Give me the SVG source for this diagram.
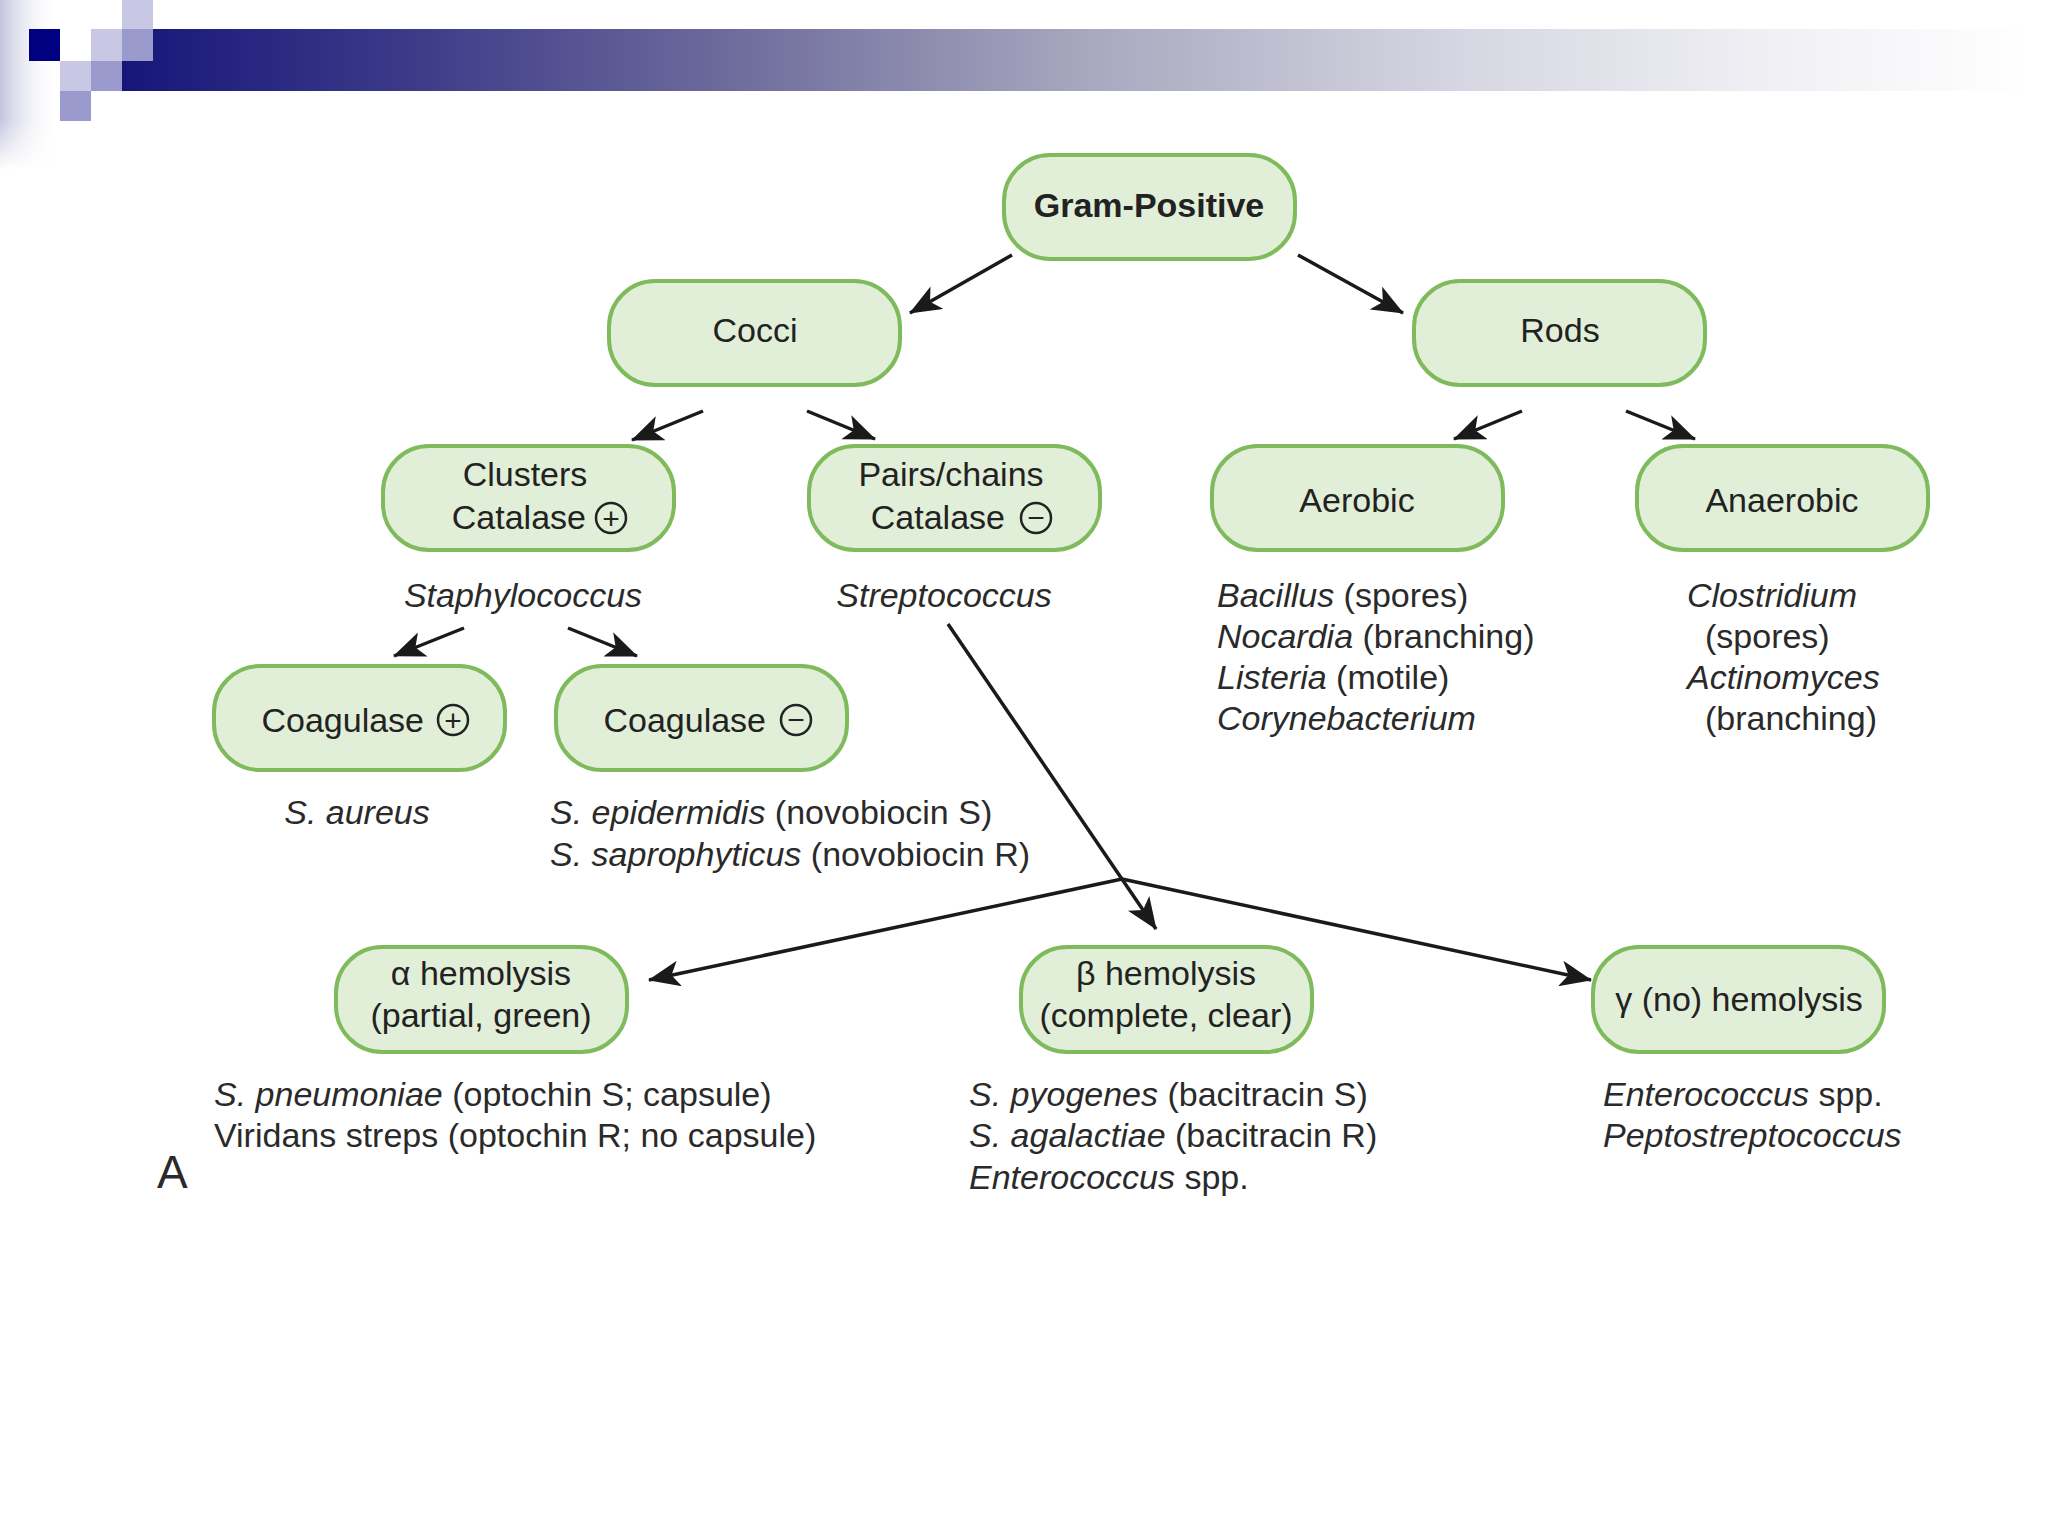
<svg xmlns="http://www.w3.org/2000/svg" width="2048" height="1536" viewBox="0 0 2048 1536">
<defs>
<linearGradient id="barGrad" gradientUnits="userSpaceOnUse" x1="122" y1="0" x2="2030" y2="0">
<stop offset="0" stop-color="#16167a"/>
<stop offset="0.15" stop-color="#3c3a88"/>
<stop offset="0.32" stop-color="#6e6c9c"/>
<stop offset="0.5" stop-color="#a6a6be"/>
<stop offset="0.7" stop-color="#d6d6e2"/>
<stop offset="0.88" stop-color="#f2f2f6"/>
<stop offset="1" stop-color="#ffffff"/>
</linearGradient>
<linearGradient id="edgeGrad" x1="0" y1="0" x2="1" y2="0">
<stop offset="0" stop-color="#c4c4de"/>
<stop offset="1" stop-color="#ffffff" stop-opacity="0"/>
</linearGradient>
<linearGradient id="edgeFadeV" x1="0" y1="0" x2="0" y2="1">
<stop offset="0" stop-color="#ffffff" stop-opacity="0"/>
<stop offset="0.7" stop-color="#ffffff" stop-opacity="0"/>
<stop offset="1" stop-color="#ffffff" stop-opacity="1"/>
</linearGradient>
<marker id="arr" markerUnits="userSpaceOnUse" markerWidth="32" markerHeight="26" viewBox="0 0 32 26" refX="31" refY="13" orient="auto">
<path d="M0,0 L32,13 L0,26 L8,13 z" fill="#1a1a1a"/>
</marker>
<style>
.node rect{fill:#e2efd8;stroke:#7fba5c;stroke-width:4}
.nt{font-family:"Liberation Sans",Arial,sans-serif;font-size:34px;fill:#222222;text-anchor:middle}
.lb{font-family:"Liberation Sans",Arial,sans-serif;font-size:34px;fill:#2a2a2a}
.it{font-style:italic}
.big{font-size:46px}
.sym circle{fill:none;stroke:#222222;stroke-width:2.5}
.sym text{font-family:"Liberation Sans",Arial,sans-serif;font-size:30px;fill:#222222;text-anchor:middle}
.conn line{stroke:#1a1a1a;stroke-width:3.5;fill:none}
</style>
</defs>
<rect width="2048" height="1536" fill="#ffffff"/>
<g id="header">
<rect x="0" y="0" width="60" height="170" fill="url(#edgeGrad)"/>
<rect x="0" y="0" width="60" height="170" fill="url(#edgeFadeV)"/>
<rect x="122" y="29" width="1910" height="62" fill="url(#barGrad)"/>
<rect x="29" y="29" width="31" height="32" fill="#000080"/>
<rect x="91" y="29" width="31" height="32" fill="#c8c8e4"/>
<rect x="122" y="0" width="31" height="29" fill="#c8c8e4"/>
<rect x="122" y="29" width="31" height="32" fill="#9a9acc"/>
<rect x="60" y="61" width="31" height="30" fill="#c8c8e4"/>
<rect x="91" y="61" width="31" height="30" fill="#9a9acc"/>
<rect x="60" y="91" width="31" height="30" fill="#9a9acc"/>
</g>
<g id="connectors" class="conn">
<line x1="1012" y1="255" x2="910" y2="313" marker-end="url(#arr)"/>
<line x1="1298" y1="255" x2="1403" y2="313" marker-end="url(#arr)"/>
<line x1="703" y1="411" x2="632" y2="440" marker-end="url(#arr)"/>
<line x1="807" y1="411" x2="875" y2="439" marker-end="url(#arr)"/>
<line x1="1522" y1="411" x2="1454" y2="439" marker-end="url(#arr)"/>
<line x1="1626" y1="411" x2="1695" y2="439" marker-end="url(#arr)"/>
<line x1="464" y1="628" x2="394" y2="656" marker-end="url(#arr)"/>
<line x1="568" y1="628" x2="637" y2="656" marker-end="url(#arr)"/>
<line x1="948" y1="624" x2="1156" y2="929" marker-end="url(#arr)"/>
<line x1="1122" y1="879" x2="649" y2="980" marker-end="url(#arr)"/>
<line x1="1122" y1="879" x2="1591" y2="980" marker-end="url(#arr)"/>
</g>
<g id="gram-positive" class="node">
<rect x="1004" y="155" width="291" height="104" rx="46"/>
<text x="1149" y="217" class="nt" font-weight="bold">Gram-Positive</text>
</g>
<g id="cocci" class="node">
<rect x="609" y="281" width="291" height="104" rx="46"/>
<text x="755" y="342" class="nt">Cocci</text>
</g>
<g id="rods" class="node">
<rect x="1414" y="281" width="291" height="104" rx="46"/>
<text x="1560" y="342" class="nt">Rods</text>
</g>
<g id="clusters" class="node">
<rect x="383" y="446" width="291" height="104" rx="46"/>
<text x="525" y="486" class="nt">Clusters</text>
<text x="586" y="529" class="nt" style="text-anchor:end">Catalase</text>
<g class="sym"><circle cx="611" cy="518" r="15"/><text x="611" y="529">+</text></g>
</g>
<g id="pairs-chains" class="node">
<rect x="809" y="446" width="291" height="104" rx="46"/>
<text x="951" y="486" class="nt">Pairs/chains</text>
<text x="1005" y="529" class="nt" style="text-anchor:end">Catalase</text>
<g class="sym"><circle cx="1036" cy="518" r="15"/><text x="1036" y="528">−</text></g>
</g>
<g id="aerobic" class="node">
<rect x="1212" y="446" width="291" height="104" rx="46"/>
<text x="1357" y="512" class="nt">Aerobic</text>
</g>
<g id="anaerobic" class="node">
<rect x="1637" y="446" width="291" height="104" rx="46"/>
<text x="1782" y="512" class="nt">Anaerobic</text>
</g>
<g id="coagulase-pos" class="node">
<rect x="214" y="666" width="291" height="104" rx="46"/>
<text x="424" y="732" class="nt" style="text-anchor:end">Coagulase</text>
<g class="sym"><circle cx="453" cy="720" r="15"/><text x="453" y="731">+</text></g>
</g>
<g id="coagulase-neg" class="node">
<rect x="556" y="666" width="291" height="104" rx="46"/>
<text x="766" y="732" class="nt" style="text-anchor:end">Coagulase</text>
<g class="sym"><circle cx="796" cy="720" r="15"/><text x="796" y="730">−</text></g>
</g>
<g id="alpha" class="node">
<rect x="336" y="947" width="291" height="105" rx="46"/>
<text x="481" y="985" class="nt">α hemolysis</text>
<text x="481" y="1027" class="nt">(partial, green)</text>
</g>
<g id="beta" class="node">
<rect x="1021" y="947" width="291" height="105" rx="46"/>
<text x="1166" y="985" class="nt">β hemolysis</text>
<text x="1166" y="1027" class="nt">(complete, clear)</text>
</g>
<g id="gamma" class="node">
<rect x="1593" y="947" width="291" height="105" rx="46"/>
<text x="1739" y="1011" class="nt">γ (no) hemolysis</text>
</g>
<g id="labels">
<text x="523" y="607" class="lb it" text-anchor="middle">Staphylococcus</text>
<text x="944" y="607" class="lb it" text-anchor="middle">Streptococcus</text>
<text x="1217" y="607" class="lb"><tspan class="it">Bacillus</tspan> (spores)</text>
<text x="1217" y="648" class="lb"><tspan class="it">Nocardia</tspan> (branching)</text>
<text x="1217" y="689" class="lb"><tspan class="it">Listeria</tspan> (motile)</text>
<text x="1217" y="730" class="lb it">Corynebacterium</text>
<text x="1687" y="607" class="lb it">Clostridium</text>
<text x="1705" y="648" class="lb">(spores)</text>
<text x="1687" y="689" class="lb it">Actinomyces</text>
<text x="1705" y="730" class="lb">(branching)</text>
<text x="357" y="824" class="lb it" text-anchor="middle">S. aureus</text>
<text x="550" y="824" class="lb"><tspan class="it">S. epidermidis</tspan> (novobiocin S)</text>
<text x="550" y="866" class="lb"><tspan class="it">S. saprophyticus</tspan> (novobiocin R)</text>
<text x="214" y="1106" class="lb"><tspan class="it">S. pneumoniae</tspan> (optochin S; capsule)</text>
<text x="214" y="1147" class="lb">Viridans streps (optochin R; no capsule)</text>
<text x="157" y="1188" class="lb big">A</text>
<text x="969" y="1106" class="lb"><tspan class="it">S. pyogenes</tspan> (bacitracin S)</text>
<text x="969" y="1147" class="lb"><tspan class="it">S. agalactiae</tspan> (bacitracin R)</text>
<text x="969" y="1189" class="lb"><tspan class="it">Enterococcus</tspan> spp.</text>
<text x="1603" y="1106" class="lb"><tspan class="it">Enterococcus</tspan> spp.</text>
<text x="1603" y="1147" class="lb it">Peptostreptococcus</text>
</g>
</svg>
